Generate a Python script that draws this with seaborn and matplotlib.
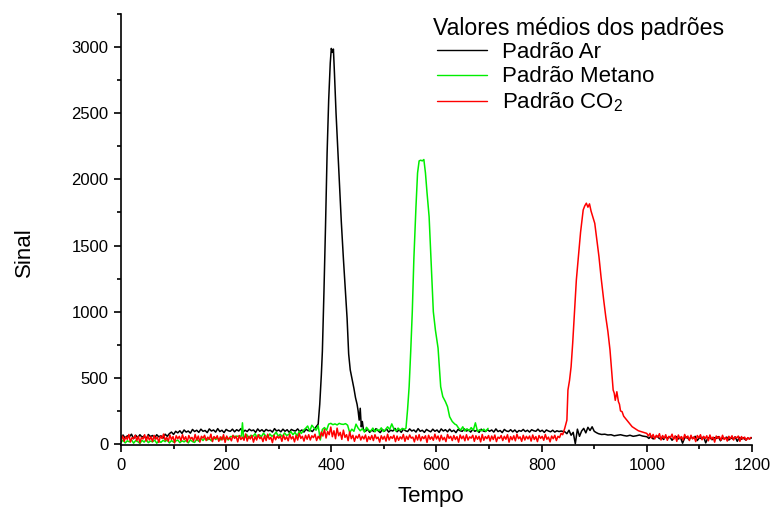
import numpy as np
import pandas as pd
import matplotlib
matplotlib.use("Agg")
import matplotlib.pyplot as plt
from matplotlib.ticker import MultipleLocator
import seaborn as sns

# ---------------- data ----------------
legend_title = "Valores médios dos padrões"
series_names = ["Padrão Ar", "Padrão Metano", "Padrão CO$_\\mathregular{2}$"]
series_colors = ["#000000", "#00ee00", "#ff0000"]

x_ticks = [0, 200, 400, 600, 800, 1000, 1200]
y_ticks = [0, 500, 1000, 1500, 2000, 2500, 3000]

# Padrão Ar
ar_base1_start, ar_base1_step = 0, 4
ar_base1 = [50, 68, 42, 62, 55, 74, 40, 66, 48, 70, 52, 60, 38, 72, 56, 64, 46, 70, 54, 62, 44, 74, 58,
            78, 90, 72, 96, 84, 100, 80, 106, 90, 98, 82, 110, 94, 104, 88, 112, 96, 102, 86, 114,
            98, 106, 90, 116, 94, 104, 86, 110, 100, 96, 112, 92, 108, 98, 116, 90, 104, 94, 112, 100,
            106, 88, 114, 96, 108, 92, 110, 100, 104, 90, 116, 98, 106, 92, 112, 96, 108, 88, 110, 102,
            98, 114, 94, 106, 90, 112, 100, 104, 94]
ar_peak_t = [375, 378, 381, 383, 386, 389, 392, 395, 398, 400, 402, 404, 406, 409, 412, 415,
             419, 423, 427, 430, 433, 436, 440, 443, 446, 449, 451, 453, 455, 457, 459, 461]
ar_peak = [150, 300, 520, 700, 1150, 1650, 2200, 2600, 2880, 2990, 2960, 2985, 2800, 2500, 2250, 2000,
           1680, 1400, 1150, 950, 680, 560, 480, 420, 350, 300, 250, 180, 270, 130, 170, 110]
ar_base2_start, ar_base2_step = 465, 4
ar_base2 = [96, 112, 88, 106, 94, 116, 100, 86, 110, 96, 114, 90, 104, 98, 118, 92, 108, 88, 112, 100,
            94, 114, 98, 106, 90, 116, 96, 104, 88, 110, 100, 92, 112, 96, 106, 88, 114, 98, 108, 92,
            112, 94, 104, 86, 110, 100, 96, 114, 98, 106, 90, 110, 96, 104, 88, 112, 98, 94, 108, 96,
            106, 90, 114, 94, 102, 86, 110, 98, 94, 108, 92, 106, 88, 102, 96, 110, 94, 104, 90, 108,
            100, 96, 112, 94, 104, 88, 106, 98, 92, 104, 90, 100, 94, 98]
ar_base3_start, ar_base3_step = 844, 4
ar_base3 = [92, 78, 104, 66, 88, 2, 112, 58, 98, 118, 84, 126, 102, 130, 96, 86]
ar_base4_start, ar_base4_step = 908, 6
ar_base4 = [78, 72, 74, 68, 70, 62, 66, 70, 64, 60, 66, 58, 62, 68, 60, 56]
ar_base5_start, ar_base5_step = 1000, 4
ar_base5 = [55, 42, 60, 38, 52, 58, 40, 50, 34, 56, 44, 52, 28, 48, 56, 38, 50, 6, 46, 54,
            34, 50, 44, 58, 26, 48, 40, 54, 8, 46, 50, 32, 48, 42, 56, 24, 46, 40, 52, 30,
            46, 38, 54, 20, 50, 36, 48, 30, 44, 40, 48]

# Padrão Metano
me_base1_start, me_base1_step = 0, 4
me_base1 = [12, 30, 8, 24, 16, 32, 6, 26, 18, 4, 28, 14, 34, 10, 22, 16, 30, 6, 24, 12,
            28, 18, 32, 8, 26, 14, 22, 30, 10, 24, 16, 28, 8, 32, 18, 12, 36, 20, 42, 26,
            46, 30, 40, 24, 50, 34, 44, 28, 52, 36, 48, 30, 56]
me_spike_t = [229, 231, 233]
me_spike = [60, 160, 50]
me_base2_start, me_base2_step = 235, 4
me_base2 = [52, 72, 44, 66, 58, 78, 48, 70, 55, 82, 62, 50, 76, 58, 68, 90, 60, 74, 54, 84,
            64, 72, 94, 70, 88, 60, 96, 80, 104,
            118, 136, 96, 142, 122, 104, 138,
            30,
            110, 124, 104,
            150, 156, 146, 152, 144, 156, 150, 148, 154, 142,
            86, 112, 96, 150, 120, 100, 116, 90, 126, 104, 98, 120, 92, 112, 100, 122, 94, 108,
            130, 110, 152, 114, 98, 120, 104, 118, 110]
me_peak_t = [542, 545, 548, 551, 554, 557, 561, 564, 567, 570, 573, 576, 579, 582, 586, 590,
             594, 598, 603, 608, 612, 617, 621, 625, 630, 635, 638]
me_peak = [120, 260, 433, 700, 1000, 1400, 1794, 2048, 2140, 2145, 2140, 2150, 2050, 1900, 1718, 1350,
           1000, 860, 725, 433, 358, 320, 282, 206, 170, 150, 144]
me_base3_start, me_base3_step = 642, 4
me_base3 = [120, 105, 130, 98, 115, 100, 124, 104, 160, 95, 108, 100, 112, 96, 118]

# Padrão CO2
co_base1_start, co_base1_step = 0, 3
co_base1 = [30, 60, 20, 55, 35, 72, 15, 48, 40, 66, 25, 58, 10, 50, 38, 70, 22, 62, 30, 54,
            18, 65, 36, 52, 12, 60, 42, 75, 28, 50, 20, 68, 34, 56, 8, 62, 40, 58, 24, 70,
            32, 55, 16, 64, 38, 50, 22, 72, 30, 60, 14, 58, 44, 66, 26, 52, 36, 74, 18, 56,
            40, 62, 20, 54, 30, 70, 12, 60, 36, 48, 24, 66, 42, 58, 16, 64, 34, 52, 28, 76,
            22, 58, 38, 64, 14, 56, 30, 70, 40, 52, 18, 62, 26, 74, 36, 50, 10, 66, 32, 58,
            44, 60, 20, 68, 34, 54, 24, 72, 38, 56, 16, 64, 30, 80, 42, 58, 22, 66, 36, 70,
            30, 62, 48, 74, 26, 58, 40, 90, 60, 110, 45, 95, 70, 128, 55, 100, 40, 120, 62, 88,
            35, 105, 50, 70, 25, 92, 40, 66, 20, 60, 44, 72, 30, 58, 38, 68, 18, 56, 34, 64,
            26, 70, 40, 52, 14, 62, 36, 58, 22, 74, 30, 56, 42, 66, 18, 60, 28, 54, 38, 72,
            20, 58, 34, 68, 44, 52, 16, 64, 30, 70, 24, 56, 40, 62, 12, 66, 36, 54, 28, 74,
            38, 60, 22, 66, 32, 50, 18, 72, 42, 58, 26, 64, 34, 56, 14, 68, 40, 60, 24, 70,
            30, 54, 44, 66, 20, 62, 36, 58, 16, 72, 28, 56, 40, 64, 22, 60, 34, 68, 18, 52,
            42, 64, 26, 58, 36, 70, 14, 56, 32, 62, 24, 74, 40, 54, 20, 66, 30, 58, 38, 60,
            22, 68, 34, 56, 18, 64, 42, 58, 28, 72, 36, 52, 16, 60, 40, 66, 26, 58, 48, 80]
co_peak_t = [840, 844, 848, 850, 853, 856, 859, 862, 866, 869, 871, 874, 876, 879, 882, 885, 888,
             891, 894, 897, 901, 905, 909, 913, 918, 922, 926, 930, 933, 936, 938, 940, 943, 946,
             948, 950, 953, 956, 960, 964, 968, 972, 976, 980, 984, 988, 992, 996, 1000]
co_peak = [70, 120, 180, 408, 480, 584, 760, 962, 1240, 1380, 1466, 1600, 1668, 1769, 1800, 1820, 1790,
           1815, 1760, 1720, 1668, 1540, 1416, 1260, 1088, 960, 850, 710, 560, 408, 385, 330, 395, 320,
           300, 250, 244, 210, 190, 170, 150, 131, 120, 110, 100, 95, 90, 85, 80]
co_base2_start, co_base2_step = 1003, 3
co_base2 = [60, 80, 45, 72, 38, 66, 50, 78, 30, 64, 42, 70, 28, 58, 48, 74, 35, 62, 20, 68,
            40, 56, 30, 72, 44, 60, 26, 66, 38, 54, 18, 64, 46, 70, 32, 58, 40, 62, 24, 68,
            36, 52, 14, 60, 42, 56, 28, 66, 34, 50, 22, 58, 40, 62, 30, 54, 46, 60, 20, 56,
            38, 52, 28, 48, 36, 50]


def grid(start, step, values):
    return list(start + step * np.arange(len(values)))


def build(name, parts):
    t, v = [], []
    for pt, pv in parts:
        t += list(pt)
        v += list(pv)
    return pd.DataFrame({"Tempo": t, "Sinal": v, "Série": name})


df = pd.concat([
    build(series_names[0], [
        (grid(ar_base1_start, ar_base1_step, ar_base1), ar_base1),
        (ar_peak_t, ar_peak),
        (grid(ar_base2_start, ar_base2_step, ar_base2), ar_base2),
        (grid(ar_base3_start, ar_base3_step, ar_base3), ar_base3),
        (grid(ar_base4_start, ar_base4_step, ar_base4), ar_base4),
        (grid(ar_base5_start, ar_base5_step, ar_base5), ar_base5),
    ]),
    build(series_names[1], [
        (grid(me_base1_start, me_base1_step, me_base1), me_base1),
        (me_spike_t, me_spike),
        (grid(me_base2_start, me_base2_step, me_base2), me_base2),
        (me_peak_t, me_peak),
        (grid(me_base3_start, me_base3_step, me_base3), me_base3),
    ]),
    build(series_names[2], [
        (grid(co_base1_start, co_base1_step, co_base1), co_base1),
        (co_peak_t, co_peak),
        (grid(co_base2_start, co_base2_step, co_base2), co_base2),
    ]),
], ignore_index=True)

# ---------------- figure ----------------
sns.set_style("ticks")
plt.rcParams["font.family"] = ["Liberation Sans", "DejaVu Sans"]
plt.rcParams["mathtext.fontset"] = "custom"
plt.rcParams["mathtext.rm"] = "Liberation Sans"
plt.rcParams["text.color"] = "black"
plt.rcParams["axes.labelcolor"] = "black"

fig = plt.figure(figsize=(7.75, 5.08), dpi=100)
ax = fig.add_axes([0.1561, 0.1234, 0.8142, 0.849])

sns.lineplot(data=df, x="Tempo", y="Sinal", hue="Série", hue_order=series_names,
             palette=series_colors, estimator=None, sort=False, linewidth=1.1, ax=ax,
             legend=False)

ax.set_xlim(0, 1200)
ax.set_ylim(-10, 3250)
ax.set_xticks(x_ticks)
ax.set_yticks(y_ticks)
ax.xaxis.set_minor_locator(MultipleLocator(100))
ax.yaxis.set_minor_locator(MultipleLocator(250))
ax.tick_params(which="major", direction="out", length=5, width=1.2, labelsize=12, pad=4,
               colors="black")
ax.tick_params(which="minor", direction="out", length=3, width=1.2, colors="black")
for s in ["top", "right"]:
    ax.spines[s].set_visible(False)
for s in ["left", "bottom"]:
    ax.spines[s].set_linewidth(1.2)
    ax.spines[s].set_color("black")

ax.set_xlabel("Tempo", fontsize=16)
ax.set_ylabel("Sinal", fontsize=16)
ax.xaxis.set_label_coords(0.491, -0.095)
ax.yaxis.set_label_coords(-0.136, 0.448)

# legend: title drawn as its own text, entries indented slightly beneath it
fig.text(433 / 775, 1 - 28 / 508, legend_title, fontsize=16.7, ha="left", va="center")
handles = [plt.Line2D([], [], color=c, lw=1) for c in series_colors]
leg = fig.legend(handles, series_names,
                 loc="upper left", bbox_to_anchor=(437 / 775, 1 - 42 / 508),
                 bbox_transform=fig.transFigure, frameon=False,
                 fontsize=16, handlelength=2.25, handletextpad=0.68,
                 labelspacing=0.15, borderaxespad=0, borderpad=0)

fig.savefig("out.png", dpi=100)
